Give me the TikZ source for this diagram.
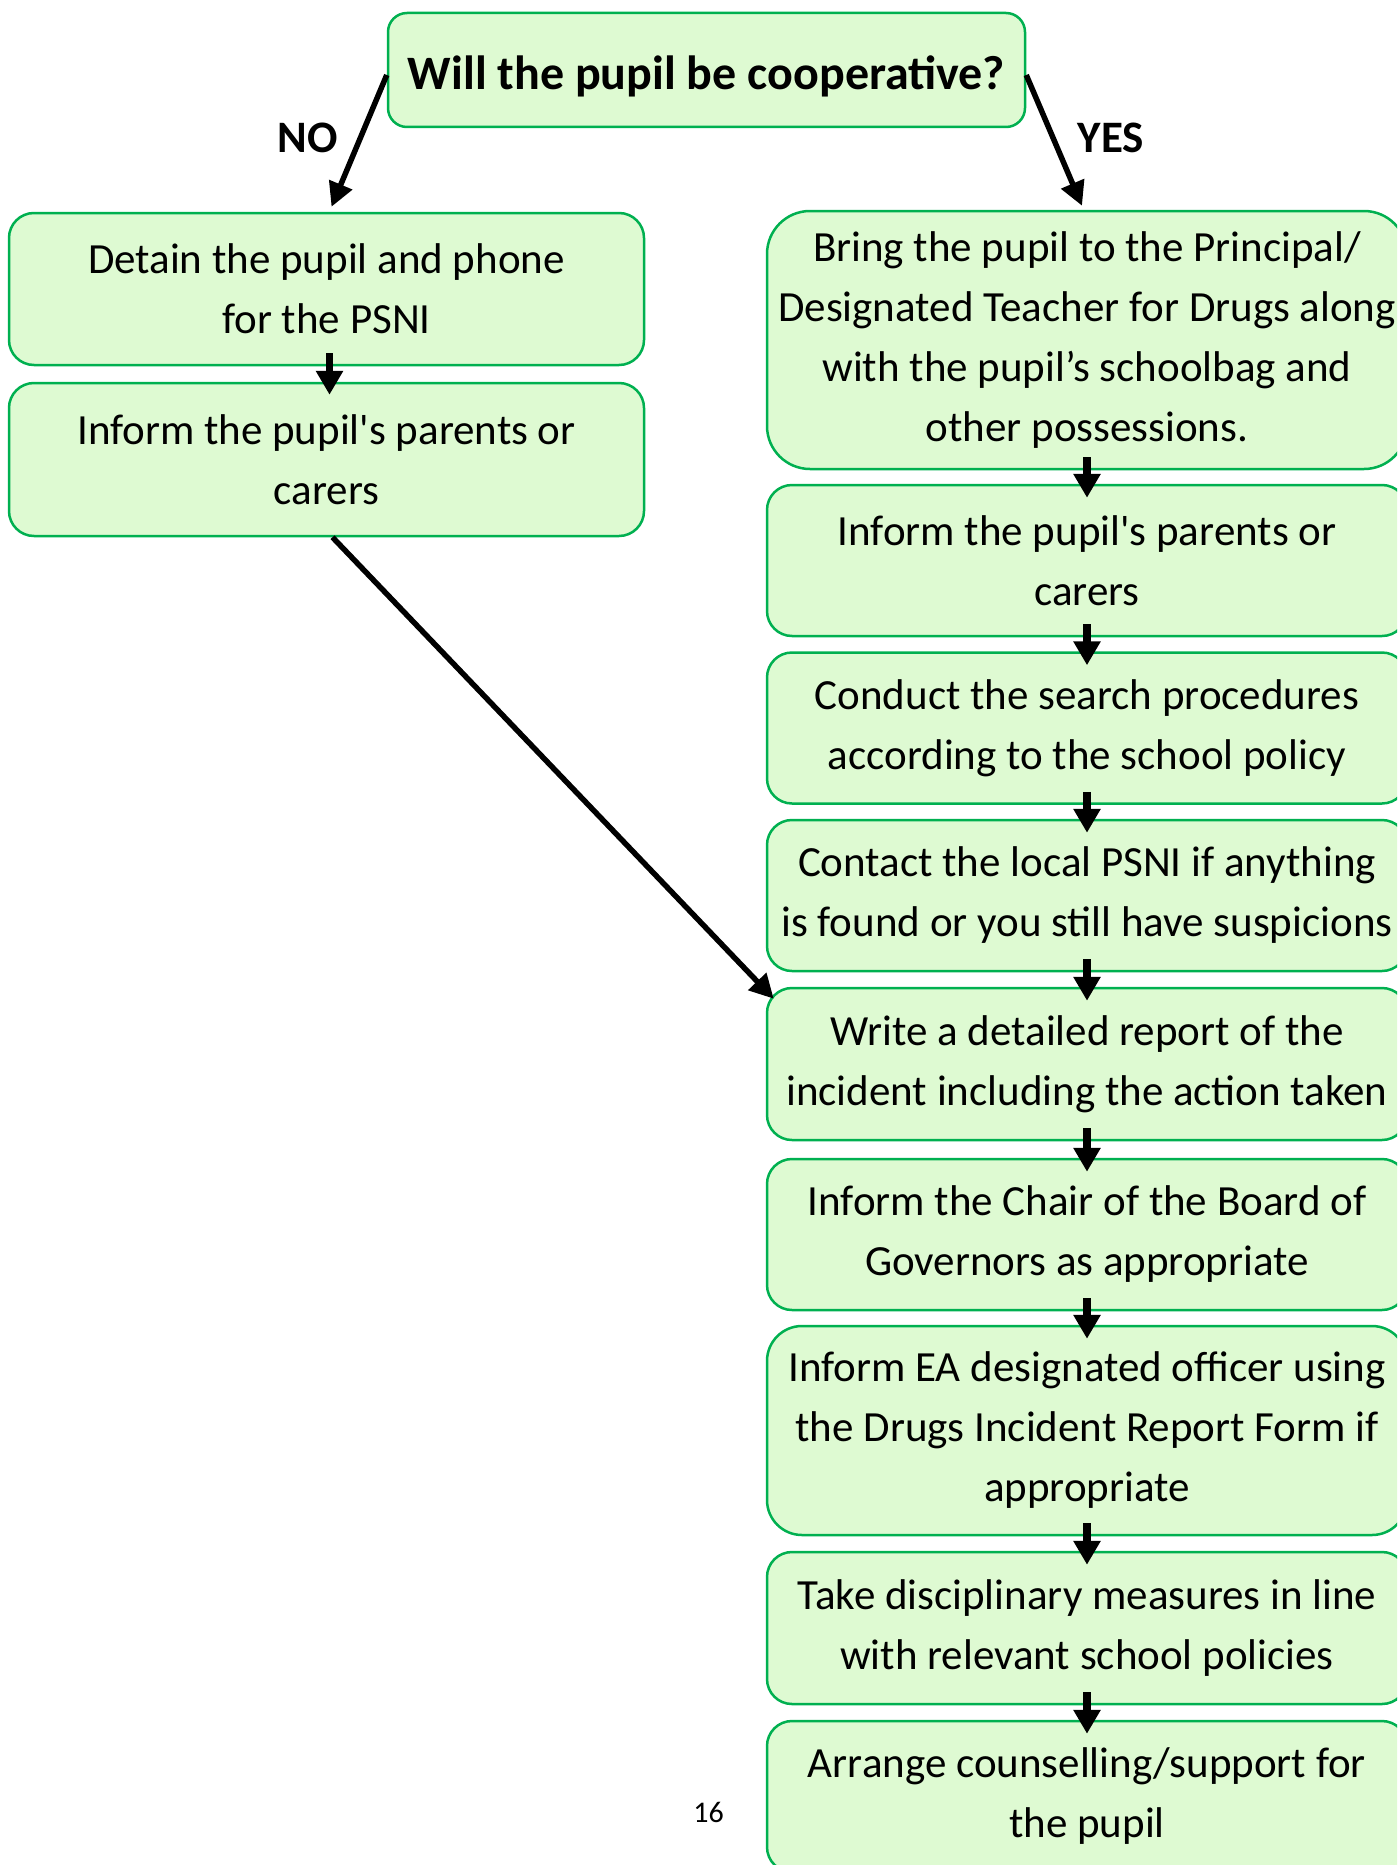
\documentclass[tikz,border=0pt]{standalone}
\usepackage{fontspec}
\setmainfont{Carlito}[Ligatures=TeXOff]
\usetikzlibrary{arrows.meta,calc}
\definecolor{boxfill}{RGB}{222,250,210}
\definecolor{boxline}{RGB}{0,176,80}
\begin{document}
\begin{tikzpicture}[x=1pt,y=-1pt,
  stepbox/.style={draw=boxline, fill=boxfill, line width=2.5pt, align=center,
    font=\fontsize{43}{60}\selectfont, inner sep=0pt},
  rbox/.style={stepbox, minimum width=640pt},
  lbox/.style={stepbox, minimum width=635pt},
  flowarrow/.style={line width=7.5pt, -{Triangle[length=24pt,width=26pt]}},
  diagarrow/.style={line width=5.5pt, -{Triangle[length=24pt,width=24pt]}},
  lbl/.style={font=\fontsize{45}{50}\selectfont\bfseries}
]
\clip (0,0) rectangle (1397,1865);
\fill[white] (0,0) rectangle (1397,1865);

% question
\node[draw=boxline, fill=boxfill, line width=2.5pt, inner sep=0pt,
  minimum width=637pt, minimum height=114pt, rounded corners=19pt,
  font=\fontsize{48}{50}\selectfont\bfseries] (q) at (706.5,70) {\raisebox{-6pt}[\height][\depth]{Will the pupil be cooperative?}};

\node[lbl] (no) at (308,138) {NO};
\node[lbl] (yes) at (1111,138) {YES};

% left column
\node[lbox, minimum height=152pt, rounded corners=25pt] (d1) at (326.5,289) {Detain the pupil and phone\\for the PSNI};
\node[lbox, minimum height=153pt, rounded corners=25pt] (d2) at (326.5,459.5) {Inform the pupil's parents or\\carers};

% right column
\node[rbox, minimum height=258pt, rounded corners=43pt] (b1) at (1087,340) {Bring the pupil to the Principal/\\Designated Teacher for Drugs along\\with the pupil’s schoolbag and\\other possessions.};
\node[rbox, minimum height=151pt, rounded corners=25pt] (b2) at (1087,560.5) {Inform the pupil's parents or\\carers};
\node[rbox, minimum height=151pt, rounded corners=25pt] (b3) at (1087,728) {Conduct the search procedures\\according to the school policy};
\node[rbox, minimum height=151pt, rounded corners=25pt] (b4) at (1087,895.5) {Contact the local PSNI if anything\\is found or you still have suspicions};
\node[rbox, minimum height=152pt, rounded corners=25pt] (b5) at (1087,1064) {Write a detailed report of the\\incident including the action taken};
\node[rbox, minimum height=151pt, rounded corners=25pt] (b6) at (1087,1234.5) {Inform the Chair of the Board of\\Governors as appropriate};
\node[rbox, minimum height=209pt, rounded corners=35pt] (b7) at (1087,1430.5) {Inform EA designated officer using\\the Drugs Incident Report Form if\\appropriate};
\node[rbox, minimum height=152pt, rounded corners=25pt] (b8) at (1087,1628) {Take disciplinary measures in line\\with relevant school policies};
\node[rbox, minimum height=151pt, rounded corners=25pt] (b9) at (1087,1796.5) {Arrange counselling/support for\\the pupil};

\node[font=\fontsize{30}{36}\selectfont] (pg) at (708.5,1812) {16};

% connectors
\draw[diagarrow] ($(q.west)+(0,5)$) -- ($(d1.north)+(5,-5)$);
\draw[diagarrow] ($(q.east)+(0,5)$) -- ($(b1.north)+(-5,-4)$);
\draw[flowarrow] ($(d1.south)+(3,-13)$) -- ($(d2.north)+(3,13)$);
\draw[diagarrow] ($(d2.south)+(6,0)$) -- ($(b5.north west)+(8,12)$);
\foreach \a/\b in {b1/b2,b2/b3,b3/b4,b4/b5,b5/b6,b6/b7,b7/b8,b8/b9}{
  \draw[flowarrow] ($(\a.south)+(0,-13)$) -- ($(\b.north)+(0,14)$);
}
\end{tikzpicture}
\end{document}
